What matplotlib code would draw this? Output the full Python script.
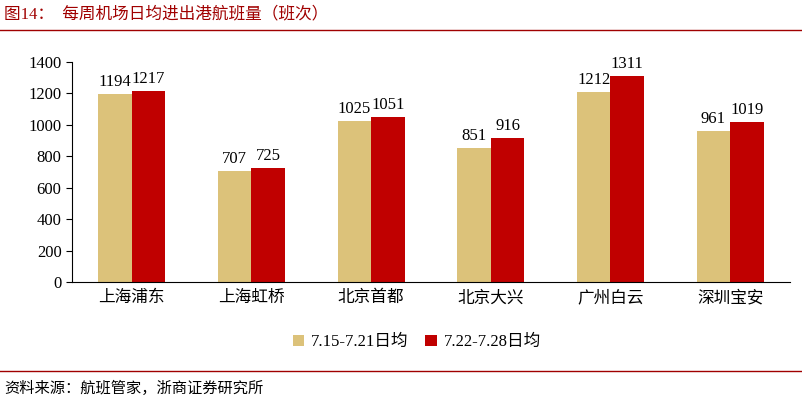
import matplotlib
matplotlib.use("Agg")
import matplotlib.pyplot as plt
import numpy as np

plt.rcParams['font.family'] = ['Liberation Serif', 'Noto Sans CJK SC']

categories = ["上海浦东", "上海虹桥", "北京首都", "北京大兴", "广州白云", "深圳宝安"]
s1_name = "7.15-7.21日均"
s2_name = "7.22-7.28日均"
s1 = [1194, 707, 1025, 851, 1212, 961]
s2 = [1217, 725, 1051, 916, 1311, 1019]
yticks = [0, 200, 400, 600, 800, 1000, 1200, 1400]

c1 = "#DCC27A"
c2 = "#C00000"

fig = plt.figure(figsize=(8.02, 4.03), dpi=100)
ax = fig.add_axes([72/802, 1-282/403, (790-72)/802, (282-62)/403])
x = np.arange(len(categories))
w = 0.28
b1 = ax.bar(x - w/2, s1, w, color=c1, label=s1_name)
b2 = ax.bar(x + w/2, s2, w, color=c2, label=s2_name)
for bars, vals in ((b1, s1), (b2, s2)):
    for r, v in zip(bars, vals):
        ax.text(r.get_x() + r.get_width()/2, v + 25, str(v), ha='center', va='bottom', fontsize=12)
ax.set_ylim(0, 1400)
ax.set_yticks(yticks)
ax.set_xlim(-0.5, len(categories) - 0.5)
ax.set_xticks(x)
ax.set_xticklabels(categories, fontsize=12)
ax.tick_params(axis='y', labelsize=12, length=4, direction='out')
ax.tick_params(axis='x', length=0, pad=6)
for s in ('top', 'right'):
    ax.spines[s].set_visible(False)
ax.spines['left'].set_color('black')
ax.spines['bottom'].set_color('black')
ax.legend(loc='upper center', bbox_to_anchor=(0.48, -0.17), ncol=2, frameon=False,
          fontsize=12, handlelength=0.7, handleheight=0.7, columnspacing=1.0, handletextpad=0.4)

fig.text(4/802, 1-14/403, "图14：  每周机场日均进出港航班量（班次）", color="#A00000", fontsize=12, va='center', ha='left')
fig.add_artist(plt.Line2D([0, 1], [1-30/403, 1-30/403], color="#A00000", lw=1))
fig.add_artist(plt.Line2D([0, 1], [1-371/403, 1-371/403], color="#A00000", lw=1))
fig.text(4/802, 1-388/403, "资料来源：航班管家，浙商证券研究所", fontsize=11, va='center', ha='left')

fig.savefig("out.png", dpi=100)
